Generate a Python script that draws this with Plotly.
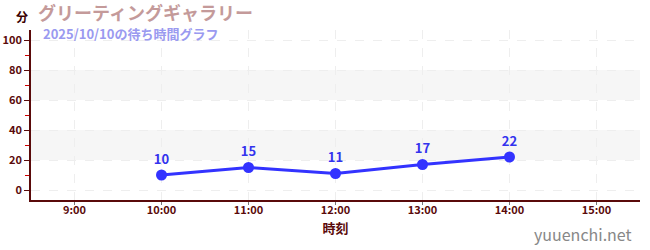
import plotly.graph_objects as go

times = ["10:00", "11:00", "12:00", "13:00", "14:00"]
hours = [10, 11, 12, 13, 14]
waits = [10, 15, 11, 17, 22]
tick_hours = [9, 10, 11, 12, 13, 14, 15]
tick_labels = ["9:00", "10:00", "11:00", "12:00", "13:00", "14:00", "15:00"]
y_ticks = [0, 20, 40, 60, 80, 100]
bands = [(20, 40), (60, 80)]
title = "グリーティングギャラリー"
subtitle = "2025/10/10の待ち時間グラフ"

FONT = "Noto Sans CJK JP"
AX = "#5a0a0a"

L, R, T, B, W, H = 31, 10, 30, 50, 650, 250
PW, PH = W - L - R, H - T - B


def px(x):
    return (x - L) / PW


def py(y):
    return (H - B - y) / PH


fig = go.Figure()
for lo, hi in bands:
    fig.add_hrect(y0=lo, y1=hi, fillcolor="#f6f6f6", line_width=0, layer="below")

fig.add_trace(go.Scatter(
    x=hours, y=waits, mode="lines+markers+text",
    text=[str(v) for v in waits], textposition="top center",
    textfont=dict(family=FONT, size=13, color="#3333ee", weight="bold"),
    line=dict(color="#3333ff", width=3),
    marker=dict(color="#3333ff", size=11),
    hoverinfo="skip", cliponaxis=False,
))

fig.update_layout(
    width=W, height=H,
    margin=dict(l=L, r=R, t=T, b=B),
    paper_bgcolor="white", plot_bgcolor="white",
    showlegend=False,
    font=dict(family=FONT, color=AX),
    xaxis=dict(
        range=[8.5, 15.5], tickmode="array", tickvals=tick_hours, ticktext=tick_labels,
        showgrid=True, gridcolor="#eeeeee", griddash="dash", gridwidth=1,
        showline=True, linecolor=AX, linewidth=1.5, ticks="outside", ticklen=3,
        tickcolor="#777", tickfont=dict(size=11, color=AX, weight="bold"), zeroline=False,
        ticklabelstandoff=-4,
        title=dict(text="時刻", font=dict(size=13, color=AX, weight="bold"), standoff=8),
        fixedrange=True, automargin=False,
    ),
    yaxis=dict(
        range=[-6.67, 106.67], tickmode="array", tickvals=y_ticks,
        showgrid=True, gridcolor="#eeeeee", griddash="dash", gridwidth=1,
        showline=True, linecolor=AX, linewidth=1.5, ticks="outside", ticklen=5,
        tickcolor=AX, tickfont=dict(size=11, color=AX, weight="bold"), zeroline=False,
        minor=dict(tickvals=[10, 30, 50, 70, 90], ticks="outside", ticklen=4,
                   tickcolor="#cc0000", showgrid=False),
        fixedrange=True, automargin=False,
    ),
    annotations=[
        dict(text="分", xref="paper", yref="paper", x=px(22), y=py(16), yanchor="middle",
             xanchor="center", showarrow=False,
             font=dict(family=FONT, size=12, color="#3a0000", weight="bold")),
        dict(text=title, xref="paper", yref="paper", x=px(36), y=py(12), xanchor="left",
             yanchor="middle", showarrow=False,
             font=dict(family=FONT, size=18, color="#c49a9a", weight="bold")),
        dict(text=subtitle, xref="paper", yref="paper", x=px(41), y=py(33), xanchor="left",
             yanchor="middle", showarrow=False,
             font=dict(family=FONT, size=13, color="#9a9af0", weight="bold")),
        dict(text="yuuenchi.net", xref="paper", yref="paper", x=px(634), y=py(234),
             xanchor="right", yanchor="middle", showarrow=False,
             font=dict(family=FONT, size=16, color="#888888")),
    ],
)

fig.write_html("out.html")
